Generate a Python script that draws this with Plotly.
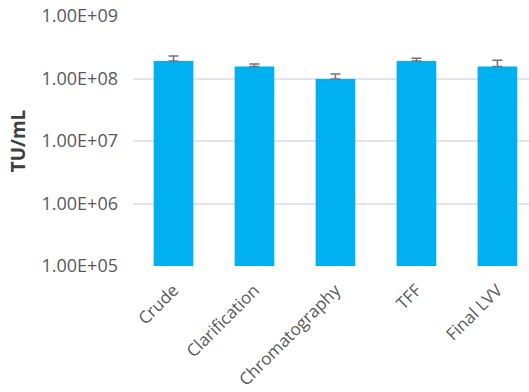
import plotly.graph_objects as go

categories = ["Crude", "Clarification", "Chromatography", "TFF", "Final LVV"]
titers = [1.9e8, 1.55e8, 9.8e7, 1.9e8, 1.55e8]
err_plus = [0.4e8, 0.15e8, 0.2e8, 0.2e8, 0.4e8]
tick_vals = [1e5, 1e6, 1e7, 1e8, 1e9]
tick_text = ["1.00E+05", "1.00E+06", "1.00E+07", "1.00E+08", "1.00E+09"]

fig = go.Figure(go.Bar(
    x=categories, y=titers,
    marker=dict(color="#00B0F0", line=dict(width=0)),
    width=0.49,
    error_y=dict(type="data", symmetric=False, array=err_plus, arrayminus=[0]*5,
                 color="#6E7380", thickness=1.5, width=5),
))

fig.update_layout(
    width=529, height=392,
    margin=dict(l=133, r=0, t=16, b=126),
    paper_bgcolor="white", plot_bgcolor="white",
    font=dict(family="Open Sans", size=18, color="#595959"),
    showlegend=False,
    xaxis=dict(range=[-0.5, 4.39], tickangle=-45, showline=False, ticks="",
               ticklabelstandoff=10,
               tickfont=dict(size=17, color="#595959")),
    yaxis=dict(type="log", range=[5, 9], tickvals=tick_vals, ticktext=tick_text,
               showgrid=True, gridcolor="#E1E4EA", gridwidth=1.5, zeroline=False,
               ticks="", ticklen=0, ticklabelstandoff=14,
               tickfont=dict(size=18, color="#595959"),
               title=dict(text="<b>TU/mL</b>", font=dict(size=19, color="#404040"), standoff=10)),
)
fig.write_html("out.html")
